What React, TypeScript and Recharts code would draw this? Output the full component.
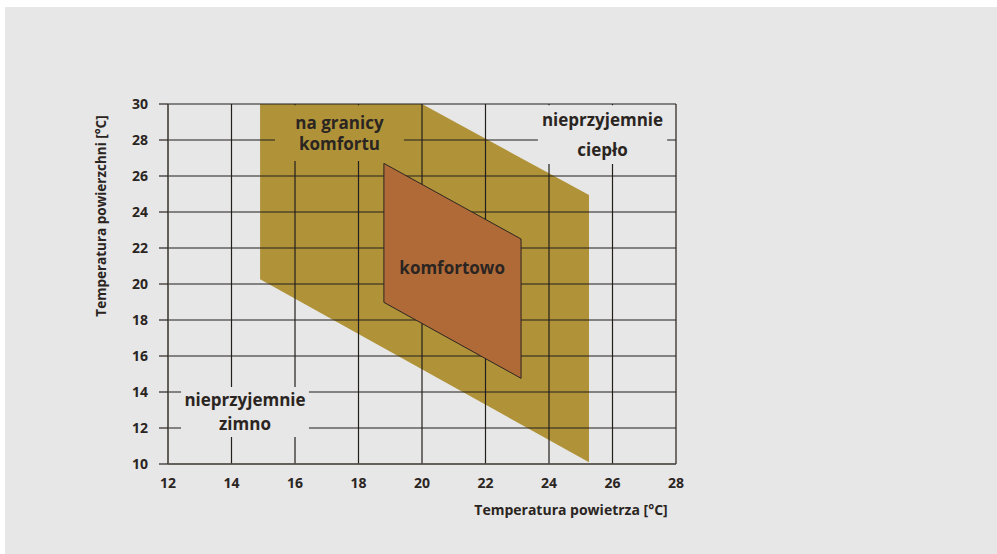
import React from "react";
import {
  CartesianGrid,
  ComposedChart,
  Label,
  ReferenceArea,
  Scatter,
  XAxis,
  YAxis,
} from "recharts";

// outline of the "na granicy komfortu" band (air temp, surface temp)
const borderZone = [
  { x: 14.9, y: 30 },
  { x: 20, y: 30 },
  { x: 25.26, y: 24.94 },
  { x: 25.26, y: 10.1 },
  { x: 14.9, y: 20.26 },
];

// "komfortowo" parallelogram
const comfortZone = [
  { x: 18.8, y: 26.7 },
  { x: 23.12, y: 22.5 },
  { x: 23.12, y: 14.76 },
  { x: 18.8, y: 18.98 },
];

const xTicks = [12, 14, 16, 18, 20, 22, 24, 26, 28];
const yTicks = [10, 12, 14, 16, 18, 20, 22, 24, 26, 28, 30];

const BG = "#e7e7e7";
const OLIVE = "#b09339";
const BROWN = "#b06a38";
const INK = "#2b2522";
const FONT = "'Open Sans', 'DejaVu Sans', sans-serif";

const polygon =
  (fill: string, stroke: string) =>
  (props: any) => {
    const pts = props.points || [];
    if (!pts.length) return null;
    const d =
      pts.map((p: any, i: number) => `${i ? "L" : "M"}${p.x},${p.y}`).join("") + "Z";
    return <path d={d} fill={fill} stroke={stroke} strokeWidth={stroke === "none" ? 0 : 1} />;
  };

const twoLines =
  (a: string, b: string, gap: number, dy: number) =>
  (props: any) => {
    const vb = props.viewBox;
    if (!vb) return null;
    const cx = vb.x + vb.width / 2;
    const cy = vb.y + vb.height / 2 + dy;
    return (
      <text
        x={cx}
        y={cy}
        textAnchor="middle"
        fontFamily={FONT}
        fontWeight={700}
        fontSize={17}
        fill={INK}
      >
        <tspan x={cx} dy={-gap / 2 + 6}>
          {a}
        </tspan>
        <tspan x={cx} dy={gap}>
          {b}
        </tspan>
      </text>
    );
  };

const noDot = () => <g />;

export default function App() {
  return (
    <div
      style={{
        position: "absolute",
        left: 0,
        top: 0,
        width: 997,
        height: 554,
        background: "#ffffff",
      }}
    >
      <div
        style={{
          position: "absolute",
          left: 5,
          top: 7,
          width: 992,
          height: 547,
          background: BG,
        }}
      />
      <div style={{ position: "absolute", left: 0, top: 0 }}>
        <ComposedChart
          width={997}
          height={554}
          margin={{ top: 104, right: 321, bottom: 60, left: 108 }}
        >
          <Scatter
            data={borderZone}
            dataKey="y"
            shape={noDot}
            line={polygon(OLIVE, "none")}
            isAnimationActive={false}
            zIndex={-200}
          />
          <CartesianGrid
            stroke="#231f1c"
            strokeWidth={1.2}
            horizontalValues={yTicks}
            verticalValues={xTicks}
            fill="none"
          />
          <Scatter
            data={comfortZone}
            dataKey="y"
            shape={noDot}
            line={polygon(BROWN, INK)}
            isAnimationActive={false}
            zIndex={600}
          />
          <XAxis
            type="number"
            dataKey="x"
            domain={[12, 28]}
            ticks={xTicks}
            interval={0}
            allowDataOverflow
            tickLine={false}
            axisLine={{ stroke: "#5a5550", strokeWidth: 1.5 }}
            tickMargin={8}
            height={30}
            tick={{ fill: INK, fontFamily: FONT, fontWeight: 700, fontSize: 14 }}
          >
            <Label
              position="bottom"
              content={() => (
                <text
                  x={571}
                  y={515}
                  textAnchor="middle"
                  fontFamily={FONT}
                  fontWeight={700}
                  fontSize={14}
                  fill={INK}
                >
                  Temperatura powietrza [°C]
                </text>
              )}
            />
          </XAxis>
          <YAxis
            type="number"
            dataKey="y"
            domain={[10, 30]}
            ticks={yTicks}
            interval={0}
            allowDataOverflow
            width={60}
            tickSize={9}
            tickLine={{ stroke: INK, strokeWidth: 1.2 }}
            axisLine={{ stroke: "#5a5550", strokeWidth: 1.2 }}
            tickMargin={11}
            tick={{ fill: INK, fontFamily: FONT, fontWeight: 700, fontSize: 14 }}
          >
            <Label
              position="left"
              content={() => (
                <text
                  x={106}
                  y={216}
                  transform="rotate(-90 106 216)"
                  textAnchor="middle"
                  fontFamily={FONT}
                  fontWeight={700}
                  fontSize={13.5}
                  fill={INK}
                >
                  Temperatura powierzchni [°C]
                </text>
              )}
            />
          </YAxis>
          <ReferenceArea
            x1={15.37}
            x2={19.43}
            y1={26.83}
            y2={29.93}
            fill={OLIVE}
            fillOpacity={1}
            stroke="none"
            zIndex={700}
            label={twoLines("na granicy", "komfortu", 21, 0)}
          />
          <ReferenceArea
            x1={23.65}
            x2={27.72}
            y1={26.67}
            y2={29.93}
            fill={BG}
            fillOpacity={1}
            stroke="none"
            zIndex={700}
            label={twoLines("nieprzyjemnie", "ciepło", 30, 0)}
          />
          <ReferenceArea
            x1={12.41}
            x2={16.44}
            y1={11.5}
            y2={14.28}
            fill={BG}
            fillOpacity={1}
            stroke="none"
            zIndex={700}
            label={twoLines("nieprzyjemnie", "zimno", 24, 0)}
          />
          <ReferenceArea
            x1={19.4}
            x2={22.5}
            y1={20.9}
            y2={20.9}
            fill="none"
            stroke="none"
            zIndex={700}
            label={{
              value: "komfortowo",
              position: "center",
              fill: INK,
              fontFamily: FONT,
              fontWeight: 700,
              fontSize: 17,
            }}
          />
        </ComposedChart>
      </div>
    </div>
  );
}
